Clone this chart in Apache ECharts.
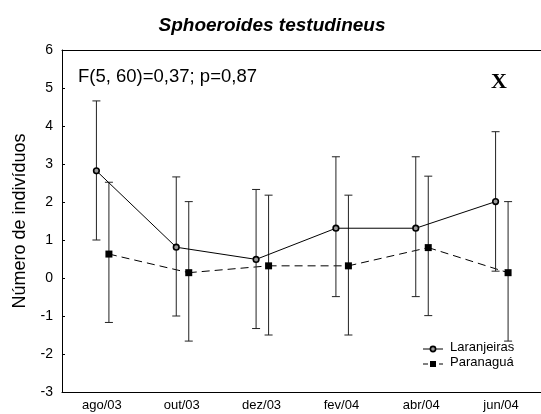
<!DOCTYPE html>
<html>
<head>
<meta charset="utf-8">
<script src="https://cdn.jsdelivr.net/npm/echarts@6/dist/echarts.min.js"></script>
<style>
  html, body { margin: 0; padding: 0; background: #fff; }
  #chart { width: 541px; height: 414px; }
</style>
</head>
<body>
<div id="chart"></div>
<script>
// 月份（类目）
var MONTHS = ["ago/03", "out/03", "dez/03", "fev/04", "abr/04", "jun/04"];

// Laranjeiras：均值、误差下限、误差上限
var LAR_MEAN = [2.82, 0.81, 0.49, 1.31, 1.31, 2.01];
var LAR_LOW  = [1.00, -1.00, -1.33, -0.49, -0.49, 0.18];
var LAR_HIGH = [4.66, 2.66, 2.33, 3.19, 3.19, 3.85];

// Paranaguá：均值、误差下限、误差上限
var PAR_MEAN = [0.63, 0.14, 0.32, 0.32, 0.80, 0.14];
var PAR_LOW  = [-1.17, -1.66, -1.50, -1.50, -0.99, -1.66];
var PAR_HIGH = [2.52, 2.01, 2.18, 2.18, 2.68, 2.01];

var Y_TICKS = [-3, 6, 1]; // min, max, interval

var FONT = "Liberation Sans, Arial, sans-serif";

/**
 * 误差线 + 折线 + 标记 的绘制函数
 **/
function makeRender(mean, low, high, shift, marker, dashed) {
  return function (params, api) {
    var i = params.dataIndex;
    var p = api.coord([i, mean[i]]);
    var pl = api.coord([i, low[i]]);
    var ph = api.coord([i, high[i]]);
    var x = p[0] + shift;
    var bar = { stroke: "#222", lineWidth: 1 };
    var kids = [
      { type: "line", shape: { x1: x, y1: pl[1], x2: x, y2: ph[1] }, style: bar },
      { type: "line", shape: { x1: x - 4, y1: pl[1], x2: x + 4, y2: pl[1] }, style: bar },
      { type: "line", shape: { x1: x - 4, y1: ph[1], x2: x + 4, y2: ph[1] }, style: bar }
    ];
    if (i < mean.length - 1) {
      var q = api.coord([i + 1, mean[i + 1]]);
      kids.push({
        type: "line",
        shape: { x1: x, y1: p[1], x2: q[0] + shift, y2: q[1] },
        style: { stroke: "#000", lineWidth: 1, lineDash: dashed ? [8, 5] : null }
      });
    }
    if (marker === "circle") {
      kids.push({ type: "circle", shape: { cx: x, cy: p[1], r: 2.8 },
        style: { fill: "#999", stroke: "#000", lineWidth: 1.6 } });
    } else {
      kids.push({ type: "rect", shape: { x: x - 3.5, y: p[1] - 3.5, width: 7, height: 7 },
        style: { fill: "#000" } });
    }
    return { type: "group", children: kids };
  };
}

function buildData(mean) {
  return mean.map(function (v, i) { return [i, v]; });
}

var chart = echarts.init(document.getElementById("chart"));

chart.setOption({
  backgroundColor: "#fff",
  animation: false,
  title: {
    text: "Sphoeroides testudineus",
    left: 267,
    textAlign: "center",
    top: 11,
    textStyle: { fontFamily: FONT, fontSize: 19, fontWeight: "bold", fontStyle: "italic", color: "#000" }
  },
  grid: { left: 62, top: 50, width: 483, height: 342 },
  xAxis: [
    {
      type: "category",
      data: MONTHS,
      position: "bottom",
      axisLine: { onZero: false, lineStyle: { color: "#000", width: 1 } },
      axisTick: { inside: true, length: 3, alignWithLabel: true, lineStyle: { color: "#000" } },
      axisLabel: { fontFamily: FONT, fontSize: 13, color: "#000", margin: 7 },
      splitLine: { show: false }
    },
    {
      type: "category",
      data: MONTHS,
      position: "top",
      axisLine: { onZero: false, lineStyle: { color: "#000", width: 1 } },
      axisTick: { inside: true, length: 3, alignWithLabel: true, lineStyle: { color: "#000" } },
      axisLabel: { show: false },
      splitLine: { show: false }
    }
  ],
  yAxis: {
    type: "value",
    min: Y_TICKS[0],
    max: Y_TICKS[1],
    interval: Y_TICKS[2],
    name: "Número de indivíduos",
    nameLocation: "middle",
    nameGap: 33,
    nameTextStyle: { fontFamily: FONT, fontSize: 18, color: "#000" },
    axisLine: { show: true, onZero: false, lineStyle: { color: "#000", width: 1 } },
    axisTick: { show: true, inside: true, length: 3, lineStyle: { color: "#000" } },
    axisLabel: { fontFamily: FONT, fontSize: 14, color: "#000", margin: 9 },
    splitLine: { show: false }
  },
  series: [
    {
      name: "Laranjeiras",
      type: "custom",
      renderItem: makeRender(LAR_MEAN, LAR_LOW, LAR_HIGH, -5.5, "circle", false),
      data: buildData(LAR_MEAN),
      encode: { x: 0, y: 1 },
      z: 3
    },
    {
      name: "Paranaguá",
      type: "custom",
      renderItem: makeRender(PAR_MEAN, PAR_LOW, PAR_HIGH, 7, "square", true),
      data: buildData(PAR_MEAN),
      encode: { x: 0, y: 1 },
      z: 2
    }
  ],
  graphic: [
    { type: "text", left: 78, top: 67,
      style: { text: "F(5, 60)=0,37; p=0,87", fontFamily: FONT, fontSize: 18.5, fill: "#000" } },
    { type: "text", left: 491, top: 71,
      style: { text: "X", fontFamily: "Liberation Serif, Times New Roman, serif", fontSize: 22, fontWeight: "bold", fill: "#000" } },
    // 图例
    { type: "line", shape: { x1: 423, y1: 349, x2: 443, y2: 349 }, style: { stroke: "#000", lineWidth: 1 } },
    { type: "circle", shape: { cx: 433, cy: 349, r: 2.6 }, style: { fill: "#999", stroke: "#000", lineWidth: 1.6 } },
    { type: "text", left: 450, top: 341,
      style: { text: "Laranjeiras", fontFamily: FONT, fontSize: 13, fill: "#000" } },
    { type: "line", shape: { x1: 423, y1: 364, x2: 443, y2: 364 }, style: { stroke: "#000", lineWidth: 1, lineDash: [5, 3] } },
    { type: "rect", shape: { x: 430, y: 361, width: 6, height: 6 }, style: { fill: "#000" } },
    { type: "text", left: 450, top: 356,
      style: { text: "Paranaguá", fontFamily: FONT, fontSize: 13, fill: "#000" } }
  ]
});
</script>
</body>
</html>
